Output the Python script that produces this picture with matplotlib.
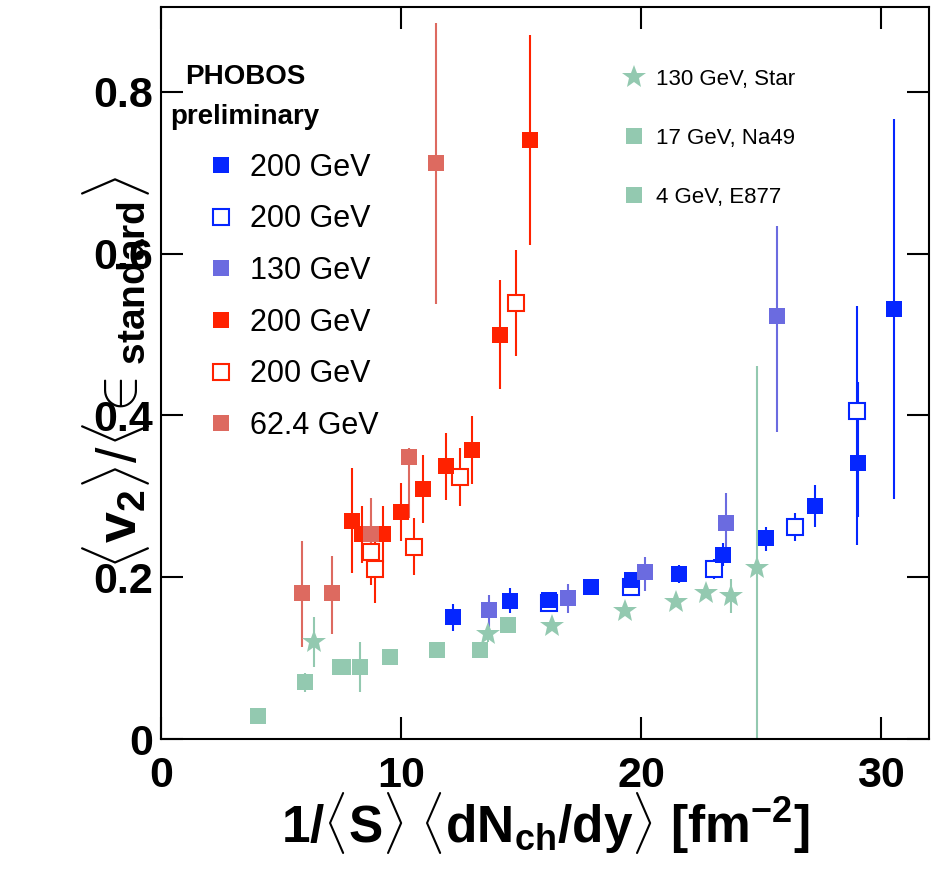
import matplotlib
matplotlib.use("Agg")
import matplotlib.pyplot as plt
from matplotlib.lines import Line2D

plt.rcParams['font.family'] = ['Liberation Sans', 'DejaVu Sans']
plt.rcParams['mathtext.fontset'] = 'custom'
plt.rcParams['mathtext.rm'] = 'Liberation Sans'
plt.rcParams['mathtext.bf'] = 'Liberation Sans:bold'
plt.rcParams['mathtext.it'] = 'Liberation Sans:italic'

# PHOBOS 200 GeV (filled)
b200_x = [12.15, 14.53, 16.16, 17.9, 19.62, 21.6, 23.42, 25.22, 27.26, 29.06, 30.56]
b200_y = [0.151, 0.171, 0.172, 0.188, 0.197, 0.204, 0.228, 0.248, 0.288, 0.341, 0.532]
b200_lo = [0.017, 0.015, 0.010, 0.008, 0.008, 0.011, 0.014, 0.016, 0.026, 0.066, 0.235]
b200_hi = [0.016, 0.016, 0.010, 0.008, 0.008, 0.011, 0.014, 0.014, 0.026, 0.100, 0.235]

# PHOBOS 200 GeV (open)
bo_x = [16.16, 19.58, 23.05, 26.43, 29.0]
bo_y = [0.168, 0.188, 0.21, 0.262, 0.405]
bo_lo = [0.008, 0.008, 0.012, 0.017, 0.165]
bo_hi = [0.008, 0.008, 0.012, 0.017, 0.130]

# PHOBOS 130 GeV
p130_x = [13.65, 16.95, 20.17, 23.55, 25.68]
p130_y = [0.16, 0.174, 0.206, 0.267, 0.523]
p130_lo = [0.021, 0.018, 0.023, 0.036, 0.143]
p130_hi = [0.018, 0.018, 0.019, 0.037, 0.111]

# red 200 GeV (filled)
r200_x = [7.97, 8.39, 9.23, 9.98, 10.9, 11.86, 12.94, 14.11, 15.37]
r200_y = [0.27, 0.253, 0.253, 0.281, 0.309, 0.337, 0.357, 0.5, 0.741]
r200_e = [0.065, 0.035, 0.035, 0.036, 0.042, 0.041, 0.042, 0.067, 0.13]

# red 200 GeV (open)
ro_x = [8.75, 8.9, 10.53, 12.44, 14.78]
ro_y = [0.231, 0.21, 0.238, 0.324, 0.539]
ro_e = [0.04, 0.042, 0.035, 0.036, 0.066]

# 62.4 GeV
r62_x = [5.89, 7.14, 8.73, 10.35, 11.44]
r62_y = [0.18, 0.18, 0.253, 0.349, 0.712]
r62_lo = [0.066, 0.05, 0.045, 0.076, 0.174]
r62_hi = [0.065, 0.046, 0.045, 0.011, 0.173]

# 130 GeV, Star
star_x = [6.39, 13.61, 16.28, 19.33, 21.46, 22.71, 23.76, 24.85]
star_y = [0.12, 0.13, 0.14, 0.158, 0.169, 0.18, 0.177, 0.211]
star_e = [0.031, 0.01, 0.005, 0.004, 0.004, 0.006, 0.021, 0.25]

# 17 GeV, Na49
na49_x = [7.45, 7.6, 8.31, 9.56, 11.52, 13.28, 14.45]
na49_y = [0.089, 0.089, 0.089, 0.101, 0.11, 0.11, 0.141]
na49_e = [0.008, 0.008, 0.031, 0.004, 0.004, 0.01, 0.01]

# 4 GeV, E877
e877_x = [4.05, 6.01]
e877_y = [0.028, 0.07]
e877_e = [0.008, 0.012]

c_blue = '#0526ff'
c_purp = '#6b6be0'
c_red = '#ff2200'
c_r62 = '#dd6a60'
c_green = '#93c9b0'

ms = 11
ms_star = 18
fig = plt.figure(figsize=(9.34, 8.86), dpi=100)
ax = fig.add_axes([0.1724, 0.1659, 0.8222, 0.8262])

def draw(x, y, err, color, marker='s', open_=False, size=ms, z=2):
    ax.errorbar(x, y, yerr=err, fmt=marker, color=color, ecolor=color,
                elinewidth=1.5, capsize=0, markersize=size,
                markerfacecolor='white' if open_ else color,
                markeredgecolor=color, markeredgewidth=1.5 if open_ else 0,
                zorder=z)

draw(e877_x, e877_y, e877_e, c_green)
draw(na49_x, na49_y, na49_e, c_green)
draw(star_x, star_y, star_e, c_green, marker='*', size=ms_star)
draw(bo_x, bo_y, [bo_lo, bo_hi], c_blue, open_=True)
draw(b200_x, b200_y, [b200_lo, b200_hi], c_blue)
draw(p130_x, p130_y, [p130_lo, p130_hi], c_purp)
draw(ro_x, ro_y, ro_e, c_red, open_=True)
draw(r200_x, r200_y, r200_e, c_red)
draw(r62_x, r62_y, [r62_lo, r62_hi], c_r62)

ax.set_xlim(0, 32)
ax.set_ylim(0, 0.905)
ax.set_xticks([0, 10, 20, 30])
ax.set_yticks([0, 0.2, 0.4, 0.6, 0.8])
ax.set_xticklabels(['0', '10', '20', '30'])
ax.set_yticklabels(['0', '0.2', '0.4', '0.6', '0.8'])
ax.tick_params(direction='in', length=16, width=1.5, top=True, right=True,
               labelsize=31, pad=6)
ax.tick_params(axis='x', pad=12)
for lab in ax.get_xticklabels() + ax.get_yticklabels():
    lab.set_fontweight('bold')
for s in ax.spines.values():
    s.set_linewidth(1.5)

ax.set_xlabel(r'$\mathbf{1/\langle S\rangle\ \langle dN_{ch}/dy\rangle\ [fm^{-2}]}$', fontsize=37)
ax.xaxis.set_label_coords(0.5, -0.07)
ax.set_ylabel(r'$\langle\mathbf{v}_{\mathbf{2}}\rangle/\langle\in_{\mathbf{standard}}\rangle$', fontsize=40)
ax.yaxis.set_label_coords(-0.012, 0.5)

ax.text(0.032, 0.905, 'PHOBOS', transform=ax.transAxes, fontsize=20,
        fontweight='bold', va='center')
ax.text(0.012, 0.85, 'preliminary', transform=ax.transAxes, fontsize=20,
        fontweight='bold', va='center')

h1 = [
    Line2D([], [], ls='none', marker='s', ms=ms, color=c_blue, mew=0),
    Line2D([], [], ls='none', marker='s', ms=ms, color=c_blue, mfc='white', mew=1.5),
    Line2D([], [], ls='none', marker='s', ms=ms, color=c_purp, mew=0),
    Line2D([], [], ls='none', marker='s', ms=ms, color=c_red, mew=0),
    Line2D([], [], ls='none', marker='s', ms=ms, color=c_red, mfc='white', mew=1.5),
    Line2D([], [], ls='none', marker='s', ms=ms, color=c_r62, mew=0),
]
l1 = ax.legend(h1, ['200 GeV', '200 GeV', '130 GeV', '200 GeV', '200 GeV', '62.4 GeV'],
               loc='upper left', bbox_to_anchor=(0.058, 0.801), frameon=False,
               fontsize=22, handlelength=1.0, handletextpad=0.45,
               labelspacing=0.71, borderpad=0, borderaxespad=0)
ax.add_artist(l1)

h2 = [
    Line2D([], [], ls='none', marker='*', ms=ms_star, color=c_green, mew=0),
    Line2D([], [], ls='none', marker='s', ms=ms, color=c_green, mew=0),
    Line2D([], [], ls='none', marker='s', ms=ms, color=c_green, mew=0),
]
ax.legend(h2, ['130 GeV, Star', '17 GeV, Na49', '4 GeV, E877'],
          loc='upper left', bbox_to_anchor=(0.602, 0.915), frameon=False,
          fontsize=16, handlelength=1.0, handletextpad=0.45,
          labelspacing=1.7, borderpad=0, borderaxespad=0)

fig.savefig('out.png', dpi=100)
